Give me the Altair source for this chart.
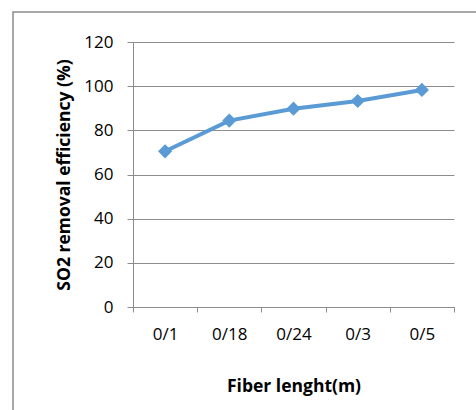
import altair as alt
import pandas as pd

categories = ["0/1", "0/18", "0/24", "0/3", "0/5"]
values = [70.5, 84.4, 89.8, 93.3, 98.3]

df = pd.DataFrame({"cat": categories, "val": values})

FONT = "Open Sans"
GRID = "#8c8c8c"
BLUE = "#5B9BD5"

x_enc = alt.X(
    "cat:N",
    sort=categories,
    scale=alt.Scale(type="band", paddingInner=0, paddingOuter=0),
    axis=alt.Axis(
        title="Fiber lenght(m)",
        titleFont=FONT, titleFontSize=17.5, titleFontWeight="bold", titleColor="#000000",
        titlePadding=35,
        labelFont=FONT, labelFontSize=17, labelColor="#000000", labelAngle=0, labelPadding=14,
        tickBand="extent", tickSize=5, tickColor=GRID, domainColor=GRID, grid=False,
    ),
)
y_enc = alt.Y(
    "val:Q",
    scale=alt.Scale(domain=[0, 120], nice=False),
    axis=alt.Axis(
        title="SO2 removal efficiency (%)",
        titleFont=FONT, titleFontSize=17.5, titleFontWeight="bold", titleColor="#000000",
        titlePadding=10,
        labelFont=FONT, labelFontSize=17, labelColor="#000000", labelPadding=14,
        values=[0, 20, 40, 60, 80, 100, 120],
        tickSize=6, tickColor=GRID, domainColor=GRID, gridColor=GRID, gridOpacity=1,
    ),
)

frame = alt.Chart(pd.DataFrame({"a": [0]})).mark_rect(
    fill=None, stroke="#8c8c8c", strokeWidth=1.5
).encode(
    x=alt.value(-120), x2=alt.value(600), y=alt.value(-30), y2=alt.value(600)
)

line = alt.Chart(df).mark_line(color=BLUE, strokeWidth=4).encode(x=x_enc, y=y_enc)
pts = alt.Chart(df).mark_point(
    shape="diamond", filled=True, color=BLUE, size=200, opacity=1
).encode(x=alt.X("cat:N", sort=categories), y="val:Q")

chart = alt.layer(frame, line, pts).properties(
    width=321, height=265,
    padding={"left": 133, "top": 42, "right": 22, "bottom": 103},
    autosize=alt.AutoSizeParams(type="none"),
    background="white",
).configure_view(stroke=None)

chart.save("out.html", embed_options={"renderer": "svg", "actions": False})
